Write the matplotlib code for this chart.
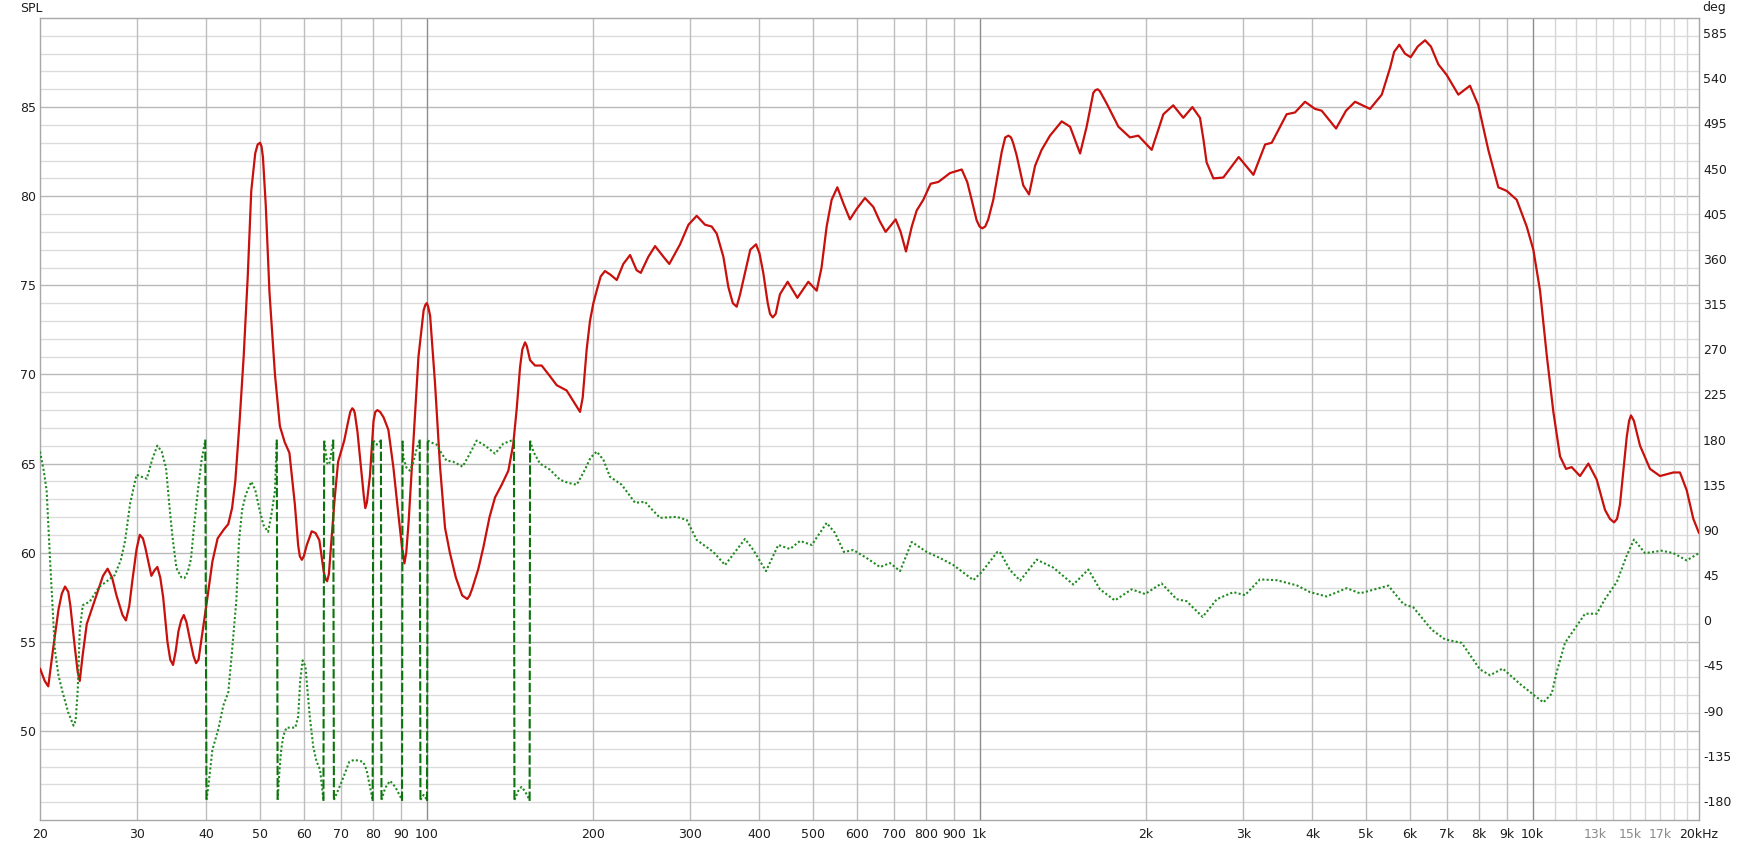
import matplotlib
matplotlib.use("Agg")
import matplotlib.pyplot as plt
import numpy as np

plt.rcParams['font.family'] = ['Liberation Sans Narrow', 'DejaVu Sans']

# ---- SPL curve (Hz, dB) ----
spl_freq = [20.0, 20.4, 20.7, 21.1, 21.6, 21.9, 22.2, 22.5, 22.7, 23.1, 23.4, 23.6, 23.9, 24.3, 25.3,
            26.0, 26.5, 27.0, 27.5, 28.2, 28.6, 29.0, 29.4, 29.9, 30.3, 30.7, 31.0, 31.8, 32.2, 32.6,
            33.0, 33.4, 34.0, 34.4, 34.8, 35.2, 35.6, 36.0, 36.4, 36.8, 37.3, 37.9, 38.3, 38.7, 39.2,
            40.0, 41.0, 41.9, 43.0, 43.8, 44.5, 45.1, 45.9, 46.7, 47.5, 48.2, 49.0, 49.5, 50.0, 50.3,
            50.6, 51.2, 52.0, 53.2, 54.3, 55.4, 56.5, 57.8, 58.6, 59.0, 59.5, 60.0, 60.7, 62.0, 63.0,
            64.0, 65.2, 65.7, 66.1, 66.6, 67.3, 68.2, 69.2, 71.0, 72.2, 72.8, 73.4, 73.9, 74.2, 75.0,
            76.4, 77.0, 77.5, 78.0, 79.0, 80.2, 80.8, 81.5, 82.4, 83.6, 85.3, 87.1, 88.9, 90.3, 91.2,
            91.9, 92.8, 94.7, 96.7, 98.8, 99.5, 100.1, 100.7, 101.5, 103.6, 105.8, 108.0, 110.2, 113.0,
            116.0, 117.2, 118.5, 119.7, 121.0, 124.1, 126.7, 130.0, 133.0, 136.7, 140.6, 143.5, 145.5,
            147.6, 149.0, 150.7, 151.8, 153.9, 157.1, 161.5, 167.2, 171.9, 179.2, 184.3, 189.5, 191.6,
            194.8, 197.5, 200.3, 203.1, 206.5, 210.2, 215.0, 220.8, 226.9, 233.4, 239.8, 244.0, 251.8,
            259.0, 268.2, 274.8, 287.4, 297.6, 308.0, 318.9, 327.8, 334.8, 344.2, 351.4, 358.0, 363.8,
            369.0, 376.6, 385.0, 394.3, 400.0, 406.4, 414.0, 418.0, 422.7, 428.0, 435.6, 449.8, 468.4,
            490.2, 507.6, 518.0, 529.1, 540.2, 553.2, 567.2, 583.0, 600.0, 620.6, 642.6, 660.0, 676.4,
            705.2, 720.0, 736.2, 754.2, 769.8, 791.3, 815.8, 842.4, 884.4, 928.5, 950.0, 967.8, 988.0,
            1000, 1011.6, 1024, 1037, 1059, 1080, 1097, 1113, 1128, 1140, 1150, 1167, 1200, 1229,
            1260, 1295, 1341, 1408, 1458, 1520, 1562, 1606, 1620, 1635, 1650, 1698, 1783, 1871, 1937,
            2048, 2150, 2240, 2336, 2426, 2504, 2540, 2574, 2648, 2760, 2942, 3128, 3284, 3376, 3592,
            3720, 3878, 4043, 4156, 4413, 4600, 4776, 5084, 5338, 5526, 5620, 5742, 5880, 6020, 6200,
            6392, 6550, 6756, 6996, 7342, 7706, 7980, 8318, 8672, 8980, 9362, 9760, 10034, 10318,
            10608, 10906, 11214, 11496, 11770, 12186, 12616, 13062, 13522, 13800, 14042, 14220, 14392,
            14804, 14950, 15068, 15250, 15646, 16310, 17004, 17974, 18476, 19002, 19532, 20000]
spl_db = [53.5, 52.8, 52.5, 54.5, 56.8, 57.7, 58.1, 57.8, 57.0, 54.8, 53.3, 52.8, 54.3, 56.0, 57.6,
          58.7, 59.1, 58.6, 57.6, 56.5, 56.2, 57.0, 58.5, 60.2, 61.0, 60.8, 60.3, 58.7, 59.0, 59.2,
          58.6, 57.5, 55.0, 54.0, 53.7, 54.5, 55.6, 56.2, 56.5, 56.1, 55.2, 54.2, 53.8, 54.0, 55.2,
          57.1, 59.5, 60.8, 61.3, 61.6, 62.5, 64.0, 67.3, 71.0, 75.5, 80.3, 82.4, 82.9, 83.0, 82.8,
          82.2, 79.5, 74.6, 70.0, 67.1, 66.2, 65.6, 62.7, 60.4, 59.8, 59.6, 59.8, 60.4, 61.2, 61.1,
          60.7, 58.9, 58.5, 58.4, 58.8, 60.7, 63.0, 65.1, 66.3, 67.4, 67.9, 68.1, 68.0, 67.8, 66.8,
          64.3, 63.2, 62.5, 62.8, 64.3, 67.4, 67.9, 68.0, 67.9, 67.6, 66.9, 64.8, 62.2, 60.3, 59.4,
          60.0, 61.7, 66.3, 71.0, 73.6, 73.9, 74.0, 73.8, 73.3, 69.5, 64.8, 61.4, 60.0, 58.6,
          57.6, 57.5, 57.4, 57.6, 58.0, 59.1, 60.3, 62.0, 63.1, 63.8, 64.6, 66.1, 68.0,
          70.4, 71.4, 71.8, 71.6, 70.8, 70.5, 70.5, 69.9, 69.4, 69.1, 68.5, 67.9, 68.7,
          71.4, 73.0, 74.0, 74.7, 75.5, 75.8, 75.6, 75.3, 76.2, 76.7, 75.85, 75.7, 76.6,
          77.2, 76.6, 76.2, 77.3, 78.4, 78.9, 78.4, 78.3, 77.9, 76.6, 74.9, 74.0, 73.8,
          74.5, 75.7, 77.0, 77.3, 76.8, 75.7, 74.0, 73.4, 73.2, 73.4, 74.5, 75.2, 74.3,
          75.2, 74.7, 76.0, 78.3, 79.8, 80.5, 79.6, 78.7, 79.3, 79.9, 79.4, 78.6, 78.0,
          78.7, 78.0, 76.9, 78.3, 79.2, 79.8, 80.7, 80.8, 81.3, 81.5, 80.8, 79.8, 78.65,
          78.3, 78.2, 78.3, 78.7, 79.8, 81.3, 82.5, 83.3, 83.4, 83.3, 83.0, 82.3, 80.6, 80.1,
          81.7, 82.6, 83.4, 84.2, 83.9, 82.4, 83.9, 85.8, 85.95, 86.0, 85.9, 85.2, 83.9, 83.3, 83.4,
          82.6, 84.6, 85.1, 84.4, 85.0, 84.4, 83.2, 81.9, 81.0, 81.05, 82.2, 81.2, 82.9, 83.0, 84.6,
          84.7, 85.3, 84.9, 84.8, 83.8, 84.8, 85.3, 84.9, 85.7, 87.2, 88.1, 88.5, 88.0, 87.8, 88.4,
          88.75, 88.4, 87.4, 86.8, 85.7, 86.2, 85.1, 82.6, 80.5, 80.3, 79.8, 78.3, 77.0, 74.7,
          71.1, 67.9, 65.4, 64.7, 64.8, 64.3, 65.0, 64.1, 62.4, 61.9, 61.7, 61.9, 62.7,
          66.5, 67.4, 67.7, 67.4, 66.0, 64.7, 64.3, 64.5, 64.5, 63.5, 61.9, 61.1]

# ---- phase curve (Hz, deg), wrapped to +-180 ----
phase_freq = [20.0, 20.3, 20.56, 20.85, 21.28, 21.6, 21.98, 22.5, 23.0, 23.2, 23.4, 23.6, 23.9, 24.6,
              25.6, 26.3, 27.3, 28.0, 28.5, 29.1, 29.9, 30.5, 31.2, 31.9, 32.6, 33.2, 33.8, 34.2, 34.7,
              35.3, 36.0, 36.5, 37.0, 37.5, 38.0, 38.6, 39.2, 39.8, 40.0, 40.3, 41.0, 42.0, 42.9, 43.8,
              44.5, 45.3, 45.8, 46.4, 47.1, 48.2, 49.0, 49.9, 50.7, 51.7, 52.4, 53.2, 53.6, 53.8, 54.2,
              54.6, 55.1, 55.8, 57.9, 58.6, 59.1, 59.7, 60.4, 61.5, 62.4, 63.2, 64.2, 65.1, 65.3, 65.7,
              66.2, 66.8, 67.8, 68.0, 70.1, 72.5, 74.0, 76.8, 77.9, 79.9, 80.1, 81.3, 82.7, 82.9, 84.2,
              85.9, 87.8, 90.3, 90.5, 90.8, 92.0, 93.3, 94.6, 96.0, 97.2, 97.5, 98.8, 100.2, 100.5,
              102.1, 104.3, 106.5, 108.7, 111.7, 116.2, 119.5, 123.2, 127.6, 133.0, 137.7, 142.5, 143.9,
              144.2, 146.5, 148.5, 150.5, 153.6, 153.9, 156.0, 160.4, 167.2, 174.3, 180.0, 186.9, 193.4,
              198.0, 203.1, 208.8, 214.6, 225.4, 231.0, 238.3, 248.4, 256.0, 264.4, 283.4, 295.4, 308.0,
              330.2, 346.6, 376.6, 389.9, 411.0, 432.6, 454.3, 473.6, 497.2, 529.1, 547.8, 568.6, 591.2,
              625.0, 660.8, 688.8, 718.2, 754.2, 802.6, 848.4, 896.8, 922.0, 974.6, 1008.8, 1076.8,
              1089, 1135, 1184, 1269, 1360, 1478, 1573, 1651, 1757, 1884, 1992, 2134, 2272, 2368, 2532,
              2686, 2878, 3020, 3214, 3446, 3746, 3960, 4244, 4614, 4875, 5486, 5840, 6088, 6572, 6946,
              7444, 8036, 8378, 8832, 9494, 10034, 10462, 10832, 11058, 11448, 11852, 12444, 13062,
              13522, 14200, 14804, 15258, 15974, 17122, 17974, 19002, 20000]
phase_deg = [168, 150, 129.5, 61, -30, -55, -72, -92, -105, -100, -70, -10, 15, 18.5,
             33.5, 38, 45, 60, 79, 116, 145, 143, 141, 160, 174, 168, 152, 120, 84,
             52, 43, 42, 48, 61, 95, 129.5, 160, 179, -179, -166, -129, -109, -85, -72,
             -30, 20, 79, 110, 125, 138, 130, 110, 95, 88, 105, 129, 179, -179, -150,
             -129, -115, -107, -107, -96, -60, -40, -46, -96, -126, -140, -149, -179, 179, 168,
             155, 157, 179, -179, -162, -141, -139, -141, -149, -179, 179, 175, 179, -179, -167,
             -160, -166, -179, 179, 162, 152, 149, 157, 171, 179, -179, -174, -179, 179,
             177, 175, 166, 159, 158, 153, 165, 179, 174, 166, 176, 179, 179,
             -179, -170, -166, -170, -179, 179, 168, 156, 150, 140, 137, 135, 150,
             162, 168, 160, 143, 135, 127, 117, 118, 110, 102, 103, 100, 80,
             68, 55, 81, 70, 49, 75, 71, 79, 75, 97, 87, 68, 70,
             62, 53, 57, 49, 78, 68, 62, 55, 50, 40, 48, 68,
             68, 50, 39.5, 60.4, 52.4, 35.6, 50.5, 30.8, 19.8, 30.8, 26.1, 36.7, 21, 19, 3.3,
             21, 28, 25, 40.7, 39.9, 34.8, 28, 23.7, 32, 26.8, 34.5, 16.2, 12.8, -9.4, -19.1,
             -22.5, -49, -54.8, -48.1, -63.5, -74.1, -81.8, -73.2, -51.5, -22.5, -10.4, 6.5, 6.5,
             21.1, 38, 64.5, 80.4, 66.9, 69.3, 66.9, 59.6, 66.9]

# ---- axes ticks / labels ----
grid_freqs = [30, 40, 50, 60, 70, 80, 90, 200, 300, 400, 500, 600, 700, 800, 900,
              2000, 3000, 4000, 5000, 6000, 7000, 8000, 9000]
decade_freqs = [100, 1000, 10000]
fine_freqs = [11000, 12000, 13000, 14000, 15000, 16000, 17000, 18000, 19000]
label_freqs = [20, 30, 40, 50, 60, 70, 80, 90, 100, 200, 300, 400, 500, 600, 700, 800, 900,
               1000, 2000, 3000, 4000, 5000, 6000, 7000, 8000, 9000, 10000, 13000, 15000, 17000, 20000]
label_text = ['20', '30', '40', '50', '60', '70', '80', '90', '100', '200', '300', '400', '500',
              '600', '700', '800', '900', '1k', '2k', '3k', '4k', '5k', '6k', '7k', '8k', '9k',
              '10k', '13k', '15k', '17k', '20kHz']
grey_labels = ['13k', '15k', '17k']
spl_ticks = [50, 55, 60, 65, 70, 75, 80, 85]
deg_ticks = list(range(-180, 586, 45))

W, H = 1751, 844
fig = plt.figure(figsize=(W / 100, H / 100), dpi=100)
ax = fig.add_axes([40 / W, 1 - 820 / H, 1659 / W, 802 / H])
ax.set_xscale('log')
ax.set_xlim(20, 20000)
ax.set_ylim(45, 90)

# grid
for v in range(46, 90):
    ax.axhline(v, color='#b9b9b9' if v % 5 == 0 else '#dcdcdc', lw=1.0, zorder=0)
for f in grid_freqs:
    ax.axvline(f, color='#bdbdbd', lw=1.0, zorder=0)
for f in fine_freqs:
    ax.axvline(f, color='#d6d6d6', lw=1.0, zorder=0)
for f in decade_freqs:
    ax.axvline(f, color='#8c8c8c', lw=1.0, zorder=0)

ax.plot(spl_freq, spl_db, color='#c8100c', lw=1.6, zorder=3,
        solid_joinstyle='round', solid_capstyle='round')

ax.set_xticks(label_freqs)
ax.set_xticklabels(label_text)
ax.xaxis.set_minor_locator(matplotlib.ticker.NullLocator())
ax.set_yticks(spl_ticks)
ax.set_yticklabels([str(t) for t in spl_ticks])
ax.tick_params(axis='x', length=0, pad=6, labelsize=9, colors='#1e1e1e')
ax.tick_params(axis='y', length=0, pad=3, labelsize=9, colors='#1e1e1e')
for lab in ax.get_xticklabels():
    if lab.get_text() in grey_labels:
        lab.set_color('#8a8a8a')
for sp in ax.spines.values():
    sp.set_color('#a8a8a8')
    sp.set_linewidth(1.0)

# phase on the right axis
ax2 = ax.twinx()
ax2.set_ylim(-199, 600)
ax2.set_yticks(deg_ticks)
ax2.set_yticklabels([str(t) for t in deg_ticks])
ax2.tick_params(axis='y', length=0, pad=3, labelsize=9, colors='#1e1e1e')
for sp in ax2.spines.values():
    sp.set_visible(False)

pf = np.array(phase_freq, dtype=float)
pd_ = np.array(phase_deg, dtype=float)
jumps = np.where(np.abs(np.diff(pd_)) > 300)[0]
xs, ys = [], []
start = 0
for j in jumps:
    xs.extend(pf[start:j + 1]); ys.extend(pd_[start:j + 1])
    xs.append(np.nan); ys.append(np.nan)
    start = j + 1
xs.extend(pf[start:]); ys.extend(pd_[start:])
ax2.plot(xs, ys, color='#1f8a1f', lw=1.5, linestyle=(0, (1, 1.1)), zorder=3)
for j in jumps:
    ax2.plot([pf[j], pf[j + 1]], [np.sign(pd_[j]) * 180, np.sign(pd_[j + 1]) * 180],
             color='#0b730b', lw=1.5, linestyle=(0, (4.5, 1.3)), zorder=3)

fig.text(20 / W, 1 - 8 / H, 'SPL', ha='left', va='center', fontsize=9, color='#1e1e1e')
fig.text(1702 / W, 1 - 8 / H, 'deg', ha='left', va='center', fontsize=9, color='#1e1e1e')

fig.savefig('out.png', dpi=100, facecolor='white')
